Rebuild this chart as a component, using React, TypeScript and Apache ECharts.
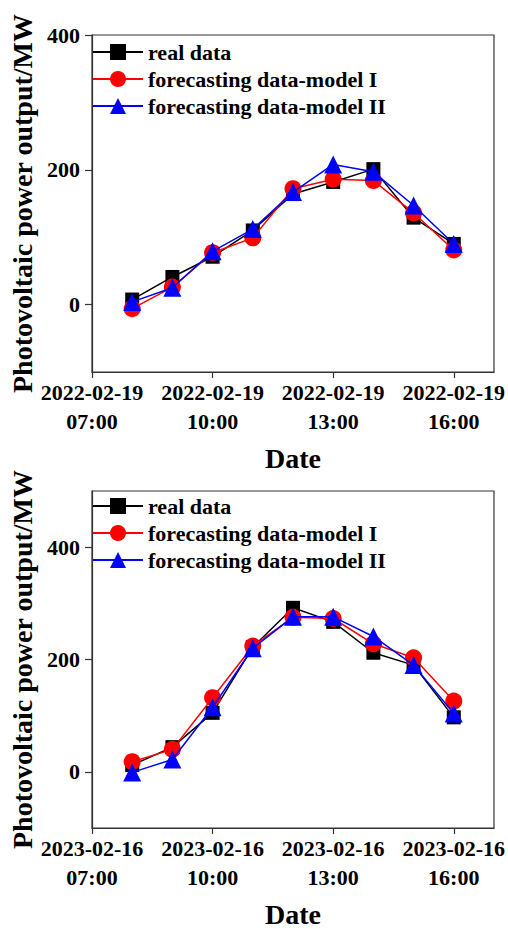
import React, { useEffect, useRef } from "react";
import * as echarts from "echarts";

const hours = [8, 9, 10, 11, 12, 13, 14, 15, 16];
const xTickHours = [7, 10, 13, 16];
const seriesNames = ["real data", "forecasting data-model I", "forecasting data-model II"];

const date1 = "2022-02-19";
const real1 = [7.5, 41, 71, 110, 164, 182, 201, 129, 90];
const modelI1 = [-6, 26, 77, 99, 172, 186, 184, 136, 81];
const modelII1 = [4, 25, 79, 112, 167, 208, 197, 147, 90];
const yTicks1 = [0, 200, 400];

const date2 = "2023-02-16";
const real2 = [12, 44, 105, 222, 292, 267, 212, 190, 97];
const modelI2 = [18, 40, 132, 224, 275, 273, 228, 203, 126];
const modelII2 = [-1, 22, 115, 220, 276, 276, 241, 190, 104];
const yTicks2 = [0, 200, 400];

const FONT = '"Liberation Serif", "Times New Roman", Times, serif';
const AXIS_COLOR = "#333";

function pad(n: number) {
  return (n < 10 ? "0" : "") + n + ":00";
}

export default function App() {
  const ref = useRef<HTMLDivElement>(null);
  useEffect(() => {
    if (!ref.current) return;
    const chart = echarts.init(ref.current, undefined, { renderer: "svg" });

    const grids = [
      { left: 91, top: 35, width: 406, height: 337 },
      { left: 91, top: 491, width: 406, height: 337 },
    ];
    const legendTops = [41, 495];
    const dates = [date1, date2];
    const yRanges = [
      [-100, 400],
      [-100, 500],
    ];
    const yTicks = [yTicks1, yTicks2];
    const datasets = [
      [real1, modelI1, modelII1],
      [real2, modelI2, modelII2],
    ];
    const colors = ["#000000", "#ff0000", "#0000ff"];
    const symbols = ["rect", "circle", "triangle"];
    const symbolSizes = [14, 17, 18];

    const textBase = { fontFamily: FONT, fontWeight: "bold" as const, color: "#000" };

    const option: any = {
      animation: false,
      backgroundColor: "#fff",
      grid: grids.map((g) => ({
        ...g,
        show: true,
        borderColor: AXIS_COLOR,
        borderWidth: 1.2,
        backgroundColor: "transparent",
      })),
      xAxis: [0, 1].map((i) => ({
        type: "value",
        gridIndex: i,
        min: 7,
        max: 17,
        name: "Date",
        nameLocation: "middle",
        nameGap: 72,
        nameTextStyle: { ...textBase, fontSize: 28 },
        axisLine: { show: true, onZero: false, lineStyle: { color: AXIS_COLOR, width: 1.2 } },
        axisTick: {
          show: true,
          inside: false,
          length: 6,
          customValues: xTickHours,
          lineStyle: { color: AXIS_COLOR, width: 1.2 },
        },
        axisLabel: {
          ...textBase,
          fontSize: 22,
          lineHeight: 29,
          margin: 6,
          customValues: xTickHours,
          formatter: (v: number) => `${dates[i]}\n${pad(v)}`,
        },
        splitLine: { show: false },
      })),
      yAxis: [0, 1].map((i) => ({
        type: "value",
        gridIndex: i,
        min: yRanges[i][0],
        max: yRanges[i][1],
        name: "Photovoltaic power output/MW",
        nameLocation: "middle",
        nameGap: 56,
        nameTextStyle: { ...textBase, fontSize: 28 },
        axisLine: { show: true, onZero: false, lineStyle: { color: AXIS_COLOR, width: 1.2 } },
        axisTick: {
          show: true,
          inside: false,
          length: 7,
          customValues: yTicks[i],
          lineStyle: { color: AXIS_COLOR, width: 1.2 },
        },
        axisLabel: {
          ...textBase,
          fontSize: 22,
          margin: 12,
          customValues: yTicks[i],
        },
        splitLine: { show: false },
      })),
      legend: [0, 1].map((i) => ({
        data: seriesNames,
        orient: "vertical",
        left: 92,
        top: legendTops[i],
        itemWidth: 50,
        itemHeight: 20,
        itemGap: 5,
        padding: 0,
        textStyle: { ...textBase, fontSize: 22 },
      })),
      series: [] as any[],
    };

    for (let g = 0; g < 2; g++) {
      for (let s = 0; s < 3; s++) {
        option.series.push({
          type: "line",
          name: seriesNames[s],
          xAxisIndex: g,
          yAxisIndex: g,
          data: hours.map((h, k) => [h, datasets[g][s][k]]),
          symbol: symbols[s],
          symbolSize: symbolSizes[s],
          showAllSymbol: true,
          color: colors[s],
          itemStyle: { color: colors[s] },
          lineStyle: { color: colors[s], width: 1.5 },
          z: 2 + s,
        });
      }
    }

    chart.setOption(option);
    return () => chart.dispose();
  }, []);

  return (
    <div
      ref={ref}
      style={{ position: "fixed", left: 0, top: 0, width: 508, height: 929, background: "#fff" }}
    />
  );
}
